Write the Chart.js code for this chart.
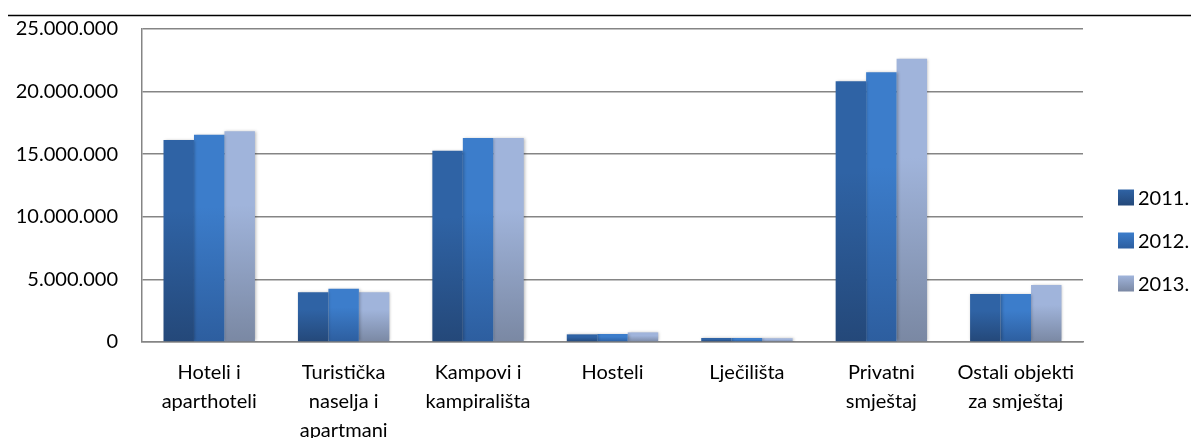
<!DOCTYPE html>
<html>
<head>
<meta charset="utf-8">
<script src="https://cdn.jsdelivr.net/npm/chart.js@4/dist/chart.umd.min.js"></script>
<style>
html,body{margin:0;padding:0;background:#fff;}
#wrap{width:1192px;height:438px;position:relative;}
</style>
</head>
<body>
<div id="wrap"><canvas id="c" width="1192" height="438"></canvas></div>
<script>
const categories = [
  ['Hoteli i', 'aparthoteli'],
  ['Turistička', 'naselja i', 'apartmani'],
  ['Kampovi i', 'kampirališta'],
  'Hosteli',
  'Lječilišta',
  ['Privatni', 'smještaj'],
  ['Ostali objekti', 'za smještaj']
];
const seriesNames = ['2011.', '2012.', '2013.'];
const values2011 = [16130000, 3970000, 15280000, 610000, 320000, 20820000, 3830000];
const values2012 = [16560000, 4260000, 16290000, 640000, 320000, 21540000, 3830000];
const values2013 = [16830000, 3970000, 16290000, 770000, 300000, 22630000, 4550000];
const yTicks = [0, 5000000, 10000000, 15000000, 20000000, 25000000];

const topColors = ['#2f63a5', '#3c7dcb', '#a0b4db'];
const bottomColors = ['#244879', '#2d5e9f', '#7a88a3'];
const FONT = 'Lato';

function barGradient(ctx) {
  const chart = ctx.chart;
  const i = ctx.datasetIndex;
  if (!chart.chartArea || ctx.type !== 'data') return topColors[i];
  const ys = chart.scales.y;
  const top = ys.getPixelForValue(ctx.raw);
  const base = ys.getPixelForValue(0);
  if (!(base - top > 0.5)) return topColors[i];
  const g = chart.ctx.createLinearGradient(0, top, 0, base);
  g.addColorStop(0, topColors[i]);
  g.addColorStop(0.35, topColors[i]);
  g.addColorStop(1, bottomColors[i]);
  return g;
}

const fmt = v => String(v).replace(/\B(?=(\d{3})+(?!\d))/g, '.');

const decor = {
  id: 'decor',
  beforeDraw(chart) {
    const c = chart.ctx;
    c.save();
    c.strokeStyle = '#000';
    c.lineWidth = 1.3;
    c.beginPath();
    c.moveTo(8, 15.5);
    c.lineTo(1191, 15.5);
    c.stroke();
    c.restore();
  },
  beforeDatasetsDraw(chart) {
    const c = chart.ctx;
    c.save();
    c.shadowColor = 'rgba(0,0,0,0.28)';
    c.shadowBlur = 3;
    c.shadowOffsetX = 1;
    c.shadowOffsetY = 0;
  },
  afterDatasetsDraw(chart) {
    chart.ctx.restore();
  },
  afterDraw(chart) {
    const c = chart.ctx;
    const ds = chart.data.datasets;
    const x0 = 1118, y0 = 197.5, step = 43, box = 16;
    c.save();
    c.font = '20px ' + FONT;
    c.textBaseline = 'middle';
    c.textAlign = 'left';
    ds.forEach((d, i) => {
      const cy = y0 + i * step;
      const g = c.createLinearGradient(0, cy - box / 2, 0, cy + box / 2);
      g.addColorStop(0, topColors[i]);
      g.addColorStop(1, bottomColors[i]);
      c.fillStyle = g;
      c.fillRect(x0, cy - box / 2, box, box);
      c.fillStyle = '#000';
      c.fillText(d.label, x0 + box + 4, cy + 1);
    });
    c.restore();
  }
};

new Chart(document.getElementById('c'), {
  type: 'bar',
  data: {
    labels: categories,
    datasets: [
      { label: seriesNames[0], data: values2011, backgroundColor: barGradient },
      { label: seriesNames[1], data: values2012, backgroundColor: barGradient },
      { label: seriesNames[2], data: values2013, backgroundColor: barGradient }
    ]
  },
  options: {
    responsive: false,
    animation: false,
    devicePixelRatio: 1,
    layout: { padding: { left: 0, right: 109, top: 29, bottom: 0 } },
    datasets: { bar: { categoryPercentage: 0.68, barPercentage: 1.0, borderWidth: 0 } },
    plugins: { legend: { display: false }, tooltip: { enabled: false } },
    scales: {
      x: {
        grid: { display: false, drawTicks: false },
        border: { display: true, color: '#858585', width: 1.5 },
        ticks: {
          autoSkip: false, maxRotation: 0, minRotation: 0,
          color: '#000', padding: 16,
          font: { family: FONT, size: 20, lineHeight: 1.45 }
        },
        afterFit(s) { s.height = 96; s.paddingLeft = 0; s.paddingRight = 0; }
      },
      y: {
        min: 0, max: 25000000,
        afterBuildTicks(s) { s.ticks = yTicks.map(v => ({ value: v })); },
        grid: { color: '#858585', lineWidth: 1.5, drawTicks: false },
        border: { display: true, color: '#858585', width: 1.5 },
        ticks: {
          color: '#000', padding: 24,
          font: { family: FONT, size: 20 },
          callback: v => fmt(v)
        },
        afterFit(s) { s.width = 142; s.paddingTop = 0; s.paddingBottom = 0; }
      }
    }
  },
  plugins: [decor]
});
</script>
</body>
</html>
